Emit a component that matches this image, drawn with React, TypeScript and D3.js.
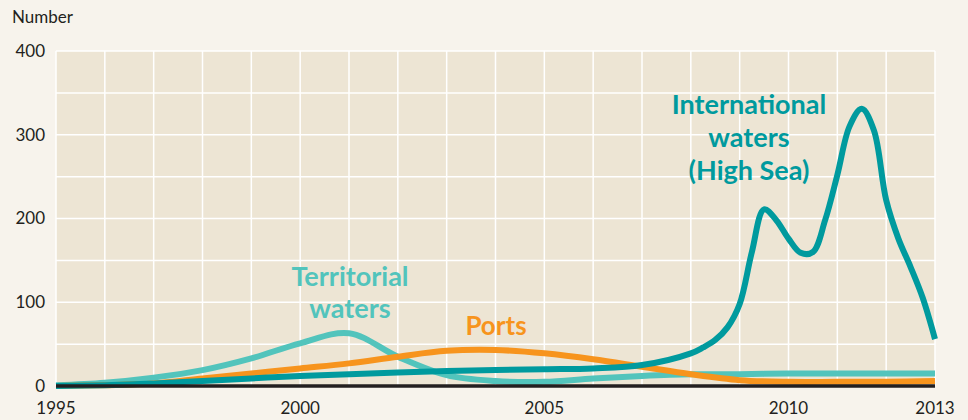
import React from 'react';
import * as d3 from 'd3';

// piracy incidents by location
const highSea: [number, number][] = [
	[1995, 0], [1996, 1], [1997, 3], [1998, 6], [1999, 9], [2000, 12], [2001, 14],
	[2002, 16], [2003, 18], [2004, 19], [2005, 20], [2006, 21], [2007, 25], [2008, 39],
	[2008.25, 46], [2008.5, 55], [2008.75, 70], [2009, 98], [2009.25, 160], [2009.5, 211],
	[2009.75, 198], [2010, 176], [2010.25, 159], [2010.5, 160], [2010.75, 198], [2011, 252],
	[2011.25, 310], [2011.5, 331], [2011.75, 305], [2012, 222], [2012.25, 176], [2012.5, 142],
	[2012.75, 105], [2013, 56]
];
const territorial: [number, number][] = [
	[1995, 1], [1996, 4], [1997, 10], [1998, 19], [1999, 33], [2000, 51], [2001, 63],
	[2002, 35], [2003, 13], [2004, 6], [2005, 5], [2006, 9], [2007, 12], [2008, 14],
	[2009, 14], [2010, 15], [2011, 15], [2012, 15], [2013, 15]
];
const ports: [number, number][] = [
	[1995, 0], [1996, 1], [1997, 3], [1998, 9], [1999, 15], [2000, 21], [2001, 27],
	[2002, 35], [2003, 42], [2004, 43], [2005, 39], [2006, 32], [2007, 23], [2008, 14],
	[2009, 7], [2010, 5], [2011, 5], [2012, 5], [2013, 6]
];

const yTicks = [0, 100, 200, 300, 400];
const xTickLabels = [1995, 2000, 2005, 2010, 2013];

const W = 968,
	H = 420;
const margin = { top: 51, right: 33, bottom: 34, left: 56 };
const font = 'Lato, "Open Sans", sans-serif';
const ink = '#231f20';

const App = () => {
	const x = d3.scaleLinear().domain([1995, 2013]).range([margin.left, W - margin.right]);
	const y = d3.scaleLinear().domain([0, 400]).range([H - margin.bottom, margin.top]);

	const line = d3
		.line<[number, number]>()
		.x((d) => x(d[0]))
		.y((d) => y(Math.max(0, d[1])))
		.curve(d3.curveCatmullRom.alpha(0.5));

	const yGrid = d3.range(0, 401, 50);
	const xGrid = d3.range(1995, 2014, 1);

	return (
		<svg
			width={W}
			height={H}
			style={{ position: 'absolute', left: 0, top: 0, background: '#f7f3ec' }}
			fontFamily={font}
		>
			<rect x={0} y={0} width={W} height={H} fill="#f7f3ec" />
			<rect
				x={x(1995)}
				y={y(400)}
				width={x(2013) - x(1995)}
				height={y(0) - y(400)}
				fill="#ede5d4"
			/>
			{yGrid.map((v) => (
				<line key={'h' + v} x1={x(1995)} x2={x(2013)} y1={y(v)} y2={y(v)} stroke="#fff" strokeWidth={1.5} />
			))}
			{xGrid.map((v) => (
				<line key={'v' + v} x1={x(v)} x2={x(v)} y1={y(400)} y2={y(0)} stroke="#fff" strokeWidth={1.5} />
			))}

			<text x={12} y={23} fontSize={17} fill={ink}>Number</text>
			{yTicks.map((t) => (
				<text key={t} x={45} y={y(t)} dy="0.35em" textAnchor="end" fontSize={17} fill={ink}>
					{t}
				</text>
			))}
			{xTickLabels.map((t) => (
				<text key={t} x={x(t)} y={414} textAnchor="middle" fontSize={17} fill={ink}>
					{t}
				</text>
			))}

			<path d={line(territorial) || ''} fill="none" stroke="#52c4bc" strokeWidth={6} />
			<path d={line(ports) || ''} fill="none" stroke="#f7941d" strokeWidth={6} />
			<path d={line(highSea) || ''} fill="none" stroke="#009a9e" strokeWidth={6} />

			<line x1={x(1995)} x2={x(2013)} y1={y(0)} y2={y(0)} stroke={ink} strokeWidth={3.5} />

			<g fontWeight="bold" textAnchor="middle" fontSize={27}>
				<text x={749} y={114} fill="#009a9e">International</text>
				<text x={749} y={147} fill="#009a9e">waters</text>
				<text x={749} y={180} fill="#009a9e">(High Sea)</text>
				<text x={350} y={286} fill="#52c4bc">Territorial</text>
				<text x={350} y={318} fill="#52c4bc">waters</text>
				<text x={496} y={335} fontSize={26} fill="#f7941d">Ports</text>
			</g>
		</svg>
	);
};

export default App;
